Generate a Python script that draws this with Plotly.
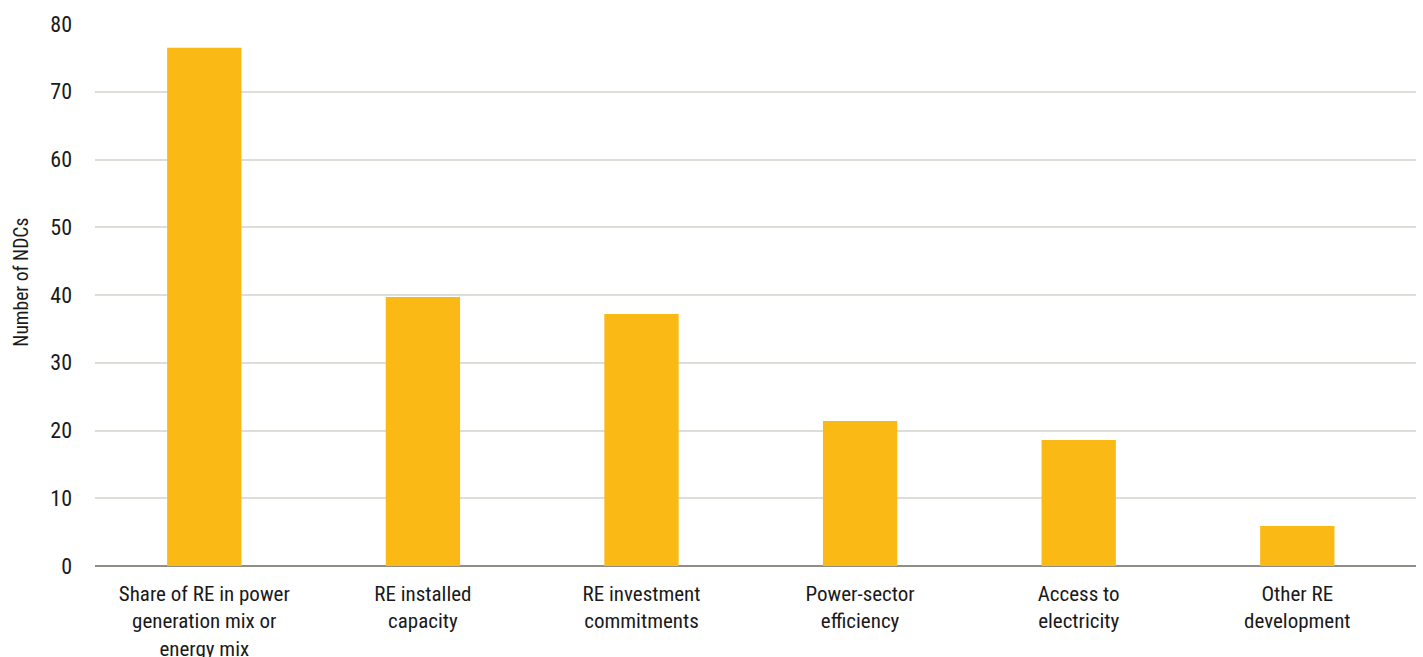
import plotly.graph_objects as go

categories = [
    "Share of RE in power<br>generation mix or<br>energy mix",
    "RE installed<br>capacity",
    "RE investment<br>commitments",
    "Power-sector<br>efficiency",
    "Access to<br>electricity",
    "Other RE<br>development",
]
values = [76.5, 39.7, 37.2, 21.4, 18.6, 5.9]
y_ticks = [0, 10, 20, 30, 40, 50, 60, 70, 80]
y_title = "Number of NDCs"

FONT = "Liberation Sans Narrow, Roboto Condensed, Arial Narrow, sans-serif"

fig = go.Figure(
    go.Bar(
        x=list(range(len(categories))),
        y=values,
        width=0.34,
        marker=dict(color="#FBB915", line=dict(width=0)),
    )
)

fig.update_layout(
    width=1423,
    height=657,
    margin=dict(l=95, r=7, t=24, b=91),
    plot_bgcolor="white",
    paper_bgcolor="white",
    showlegend=False,
    font=dict(family=FONT, color="#1a1a1a", size=21),
    xaxis=dict(
        tickmode="array",
        tickvals=list(range(len(categories))),
        ticktext=categories,
        range=[-0.5, 5.543],
        showgrid=False,
        showline=False,
        zeroline=False,
        ticks="",
        automargin=False,
        ticklabelstandoff=13,
        tickfont=dict(family=FONT, size=21, color="#1a1a1a"),
    ),
    yaxis=dict(
        range=[0, 80],
        tickmode="array",
        tickvals=y_ticks,
        showgrid=True,
        gridcolor="#DEDED8",
        gridwidth=1.5,
        zeroline=True,
        zerolinecolor="#8E8E86",
        zerolinewidth=2,
        ticks="",
        automargin=False,
        ticklabelstandoff=22,
        tickfont=dict(family=FONT, size=22, color="#1a1a1a"),
    ),
    annotations=[
        dict(
            text=y_title,
            textangle=-90,
            xref="paper",
            yref="paper",
            x=-0.0555,
            y=0.524,
            xanchor="center",
            yanchor="middle",
            showarrow=False,
            font=dict(family=FONT, size=19.5, color="#1a1a1a"),
        )
    ],
)

fig.write_html("out.html")
